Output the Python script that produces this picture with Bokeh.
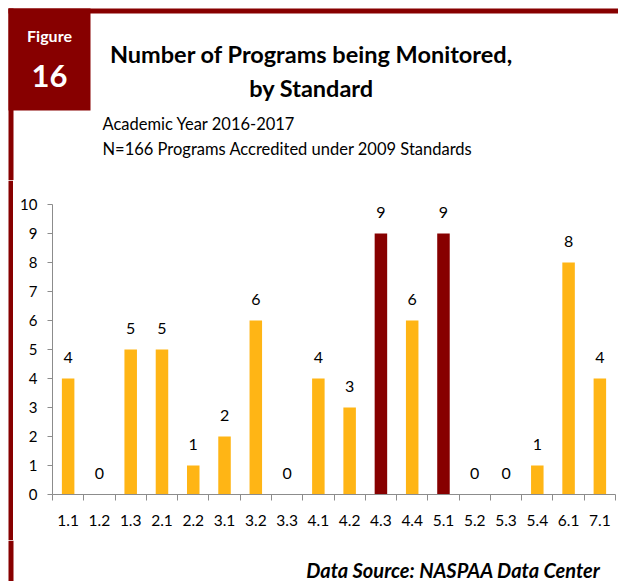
from bokeh.plotting import figure
from bokeh.layouts import column, row
from bokeh.models import (ColumnDataSource, Range1d, LinearAxis,
                          FixedTicker, LabelSet, Label, CustomJSTickFormatter)
from bokeh.core.properties import value
from bokeh.embed import file_html
from bokeh.resources import INLINE

# ---- data ----
standards = ["1.1", "1.2", "1.3", "2.1", "2.2", "3.1", "3.2", "3.3", "4.1",
             "4.2", "4.3", "4.4", "5.1", "5.2", "5.3", "5.4", "6.1", "7.1"]
programs = [4, 0, 5, 5, 1, 2, 6, 0, 4, 3, 9, 6, 9, 0, 0, 1, 8, 4]
highlighted = ["4.3", "5.1"]
y_ticks = [0, 1, 2, 3, 4, 5, 6, 7, 8, 9, 10]

title_lines = ["Number of Programs being Monitored,", "by Standard"]
subtitle_lines = ["Academic Year 2016-2017", "N=166 Programs Accredited under 2009 Standards"]
figure_word = "Figure"
figure_number = "16"
source_note = "Data Source: NASPAA Data Center"

# ---- styles ----
GOLD = "#FFB515"
MAROON = "#870000"
AXIS_GRAY = "#8C8C8C"
FONT = "Lato"

W = 618
H_HEAD, H_CHART, H_FOOT = 180, 360, 41
STRIP = 13


def blank(width, height):
    f = figure(width=width, height=height, x_range=Range1d(0, width),
               y_range=Range1d(height, 0), output_backend="svg", toolbar_location=None,
               x_axis_location=None, y_axis_location=None, min_border=0)
    f.grid.visible = False
    f.outline_line_color = None
    f.background_fill_color = "white"
    f.border_fill_color = "white"
    return f


def lbl(f, x, y, text, size, style="normal", color="black", align="left"):
    f.add_layout(Label(x=x, y=y, text=text, text_align=align, text_baseline="middle",
                       text_font=FONT, text_font_style=style, text_font_size=size,
                       text_color=color))


# ---- header ----
head = blank(W, H_HEAD)
head.quad(left=[8, 8, 8], right=[W, 13, 90], top=[8, 8, 8], bottom=[13, H_HEAD, 110],
          fill_color=MAROON, line_color=None)
lbl(head, 49, 35, figure_word, "16px", "bold", "white", "center")
lbl(head, 49, 75, figure_number, "31px", "bold", "white", "center")
for line, cy in zip(title_lines, [53, 87]):
    lbl(head, 311, cy, line, "23.5px", "bold", "black", "center")
for line, cy in zip(subtitle_lines, [123, 148]):
    lbl(head, 102, cy, line, "16.5px")

# ---- left strip beside the chart ----
strip = blank(STRIP, H_CHART)
strip.quad(left=[8], right=[13], top=[0], bottom=[H_CHART], fill_color=MAROON, line_color=None)

# ---- chart ----
n_cat = len(standards)
pos = [i + 0.5 for i in range(n_cat)]          # category centres on the index scale
colors = [MAROON if s in highlighted else GOLD for s in standards]
src = ColumnDataSource(dict(x=pos, std=standards, n=programs, color=colors,
                            label=[str(v) for v in programs]))

p = figure(width=W - STRIP, height=H_CHART, x_range=Range1d(0, n_cat),
           y_range=Range1d(0, 10), output_backend="svg", toolbar_location=None,
           x_axis_location=None, min_border_left=39, min_border_right=3,
           min_border_top=24, min_border_bottom=46)
p.grid.visible = False
p.outline_line_color = None
p.background_fill_color = "white"
p.border_fill_color = "white"

ya = p.yaxis[0]
ya.ticker = FixedTicker(ticks=y_ticks)
ya.axis_line_color = AXIS_GRAY
ya.major_tick_line_color = AXIS_GRAY
ya.major_tick_out = 5
ya.major_tick_in = 0
ya.minor_tick_line_color = None
ya.major_label_text_font = FONT
ya.major_label_text_font_size = "15px"
ya.major_label_text_color = "black"
ya.major_label_standoff = 10

tick_axis = LinearAxis(ticker=FixedTicker(ticks=list(range(n_cat + 1))),
                       formatter=CustomJSTickFormatter(code="return ''"),
                       axis_line_color=AXIS_GRAY, major_tick_line_color=AXIS_GRAY,
                       major_tick_out=6, major_tick_in=0, minor_tick_line_color=None,
                       major_label_standoff=0, major_label_text_font_size="1px")
p.add_layout(tick_axis, "below")

cat_axis = LinearAxis(ticker=FixedTicker(ticks=pos),
                      formatter=CustomJSTickFormatter(args=dict(names=standards),
                                                      code="return names[Math.floor(tick)]"),
                      axis_line_color=None, major_tick_line_color=None,
                      minor_tick_line_color=None,
                      major_label_text_font=FONT, major_label_text_font_size="15.5px",
                      major_label_text_color="black", major_label_standoff=8)
p.add_layout(cat_axis, "below")

p.vbar(x="x", top="n", width=0.4, fill_color="color", line_color=None, source=src)

p.add_layout(LabelSet(x="x", y="n", text="label", source=src, y_offset=21,
                      text_align="center", text_baseline="middle",
                      text_font=value(FONT), text_font_size="16px", text_color="black"))

# ---- footer ----
foot = blank(W, H_FOOT)
foot.quad(left=[8], right=[13], top=[0], bottom=[H_FOOT], fill_color=MAROON, line_color=None)
lbl(foot, 600, 29, source_note, "20px", "bold italic", "black", "right")

layout = column(head, row(column(strip, spacing=0), p, spacing=0), foot, spacing=0)

open("out.html", "w").write(file_html(layout, INLINE))
